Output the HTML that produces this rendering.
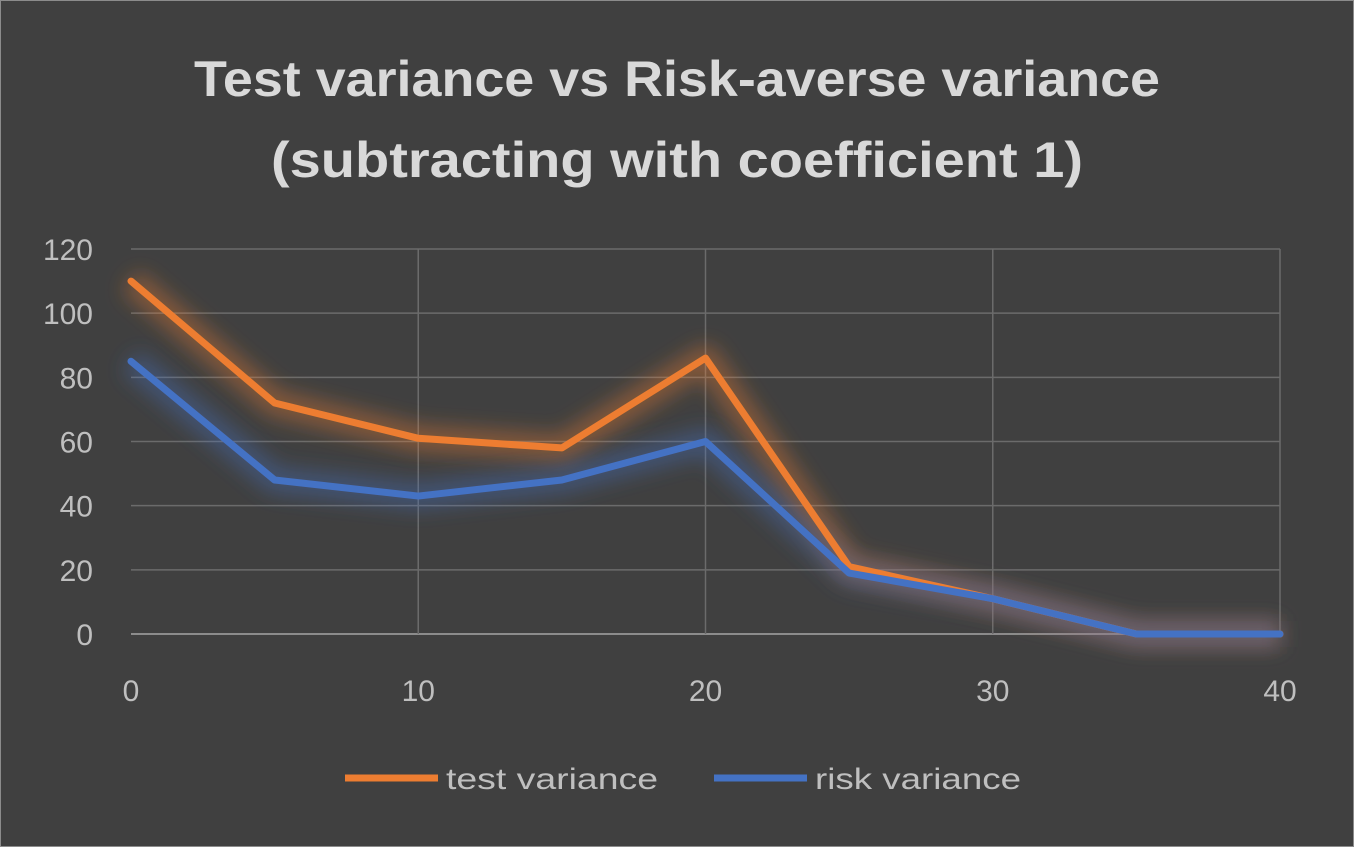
<!DOCTYPE html>
<html><head><meta charset="utf-8"><style>
html,body{margin:0;padding:0;background:#404040;}
svg{display:block;font-family:"Liberation Sans",sans-serif;}
</style></head><body>
<svg id="chart" width="1354" height="847">
<defs>
<filter id="glowO" x="-20%" y="-20%" width="140%" height="140%"><feGaussianBlur stdDeviation="10"/></filter>
</defs>
<rect x="0.5" y="0.5" width="1353" height="846" fill="#404040" stroke="#8c8c8c"/>
<text x="677" y="96" text-anchor="middle" fill="#d9d9d9" font-size="50" font-weight="bold" textLength="966" lengthAdjust="spacingAndGlyphs">Test variance vs Risk-averse variance</text>
<text x="677" y="177" text-anchor="middle" fill="#d9d9d9" font-size="50" font-weight="bold" textLength="812" lengthAdjust="spacingAndGlyphs">(subtracting with coefficient 1)</text>
<g id="grid"></g>
<g id="series"></g>
<g id="labels"></g>
<g>
<line x1="345" y1="778" x2="438" y2="778" stroke="#ed7d31" stroke-width="7"/>
<text x="446" y="789" fill="#bfbfbf" font-size="30" textLength="212" lengthAdjust="spacingAndGlyphs">test variance</text>
<line x1="714" y1="778" x2="807" y2="778" stroke="#4472c4" stroke-width="7"/>
<text x="815" y="789" fill="#bfbfbf" font-size="30" textLength="206" lengthAdjust="spacingAndGlyphs">risk variance</text>
</g>
</svg>
<script>
const xValues=[0,5,10,15,20,25,30,35,40];
const testVariance=[110,72,61,58,86,21,11,0,0];
const riskVariance=[85,48,43,48,60,19,11,0,0];
const yTicks=[0,20,40,60,80,100,120];
const xTicks=[0,10,20,30,40];
const NS="http://www.w3.org/2000/svg";
const X0=131,X1=1280,Y0=634,Y1=249;
function xs(v){return X0+(v-0)/(40-0)*(X1-X0);}
function ys(v){return Y0-(v-0)/(120-0)*(Y0-Y1);}
const grid=document.getElementById('grid'),lab=document.getElementById('labels'),ser=document.getElementById('series');
function mk(t,a,p){const e=document.createElementNS(NS,t);for(const k in a)e.setAttribute(k,a[k]);p.appendChild(e);return e;}
yTicks.forEach(v=>{
 const l=mk('line',{x1:X0,x2:X1,y1:ys(v),y2:ys(v),stroke:v===0?'#8c8c8c':'#6b6b6b','stroke-width':v===0?2:1.5},grid);
 
 
 const t=mk('text',{x:X0-38,y:ys(v)+11,'text-anchor':'end',fill:'#bfbfbf','font-size':30},lab);
 t.textContent=v;
 
 
});
xTicks.forEach(v=>{
 if(v>0){const l=mk('line',{x1:xs(v),x2:xs(v),y1:Y1,y2:Y0,stroke:'#6b6b6b','stroke-width':1.5},grid);
 
 }
 const t=mk('text',{x:xs(v),y:701,'text-anchor':'middle',fill:'#bfbfbf','font-size':30},lab);
 t.textContent=v;
 
 
});
function pts(arr){return arr.map((v,i)=>xs(xValues[i])+','+ys(v)).join(' ');}
[[testVariance,'#ed7d31','test'],[riskVariance,'#4472c4','risk']].forEach(([d,c,n])=>{
 const g=mk('polyline',{points:pts(d),fill:'none',stroke:c,'stroke-width':26,'stroke-opacity':0.4,filter:'url(#glowO)','stroke-linejoin':'round'},ser);
 
 
});
[[testVariance,'#ed7d31','test'],[riskVariance,'#4472c4','risk']].forEach(([d,c,n])=>{
 const p=mk('polyline',{points:pts(d),fill:'none',stroke:c,'stroke-width':7,'stroke-linejoin':'round','stroke-linecap':'round'},ser);
 
 
});
</script>
</body></html>
